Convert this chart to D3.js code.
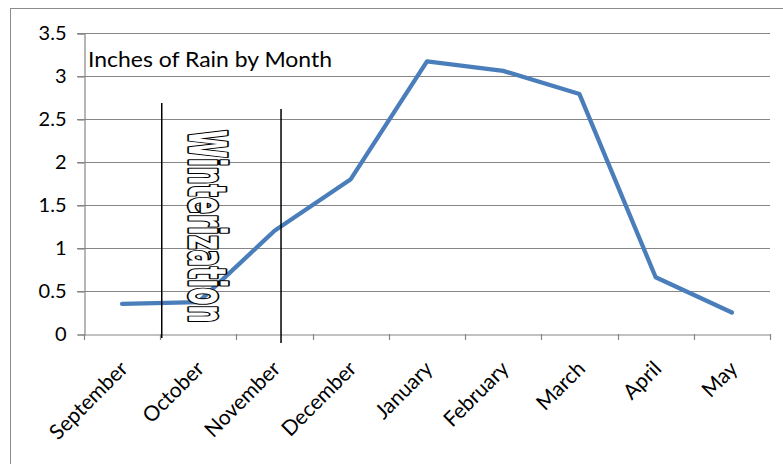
<!DOCTYPE html>
<html><head><meta charset="utf-8">
<script src="https://cdn.jsdelivr.net/npm/d3@7"></script>
<style>body{margin:0;background:#fff}svg{display:block}</style>
</head><body>
<script>
const months = ["September","October","November","December","January","February","March","April","May"];
const rain = [0.35, 0.37, 1.2, 1.8, 3.17, 3.06, 2.79, 0.66, 0.25];
const yTicks = [0, 0.5, 1, 1.5, 2, 2.5, 3, 3.5];
const title = "Inches of Rain by Month";
const annotation = "Winterization";
// marker lines: position in month-slot units, top and bottom in inches
const markerPos = [1.02, 2.585];
const markerTop = [2.686, 2.616];
const markerBottom = [-0.047, -0.105];

const W = 783, H = 464;
const svg = d3.select("body").append("svg").attr("width", W).attr("height", H);
const font = "Lato, 'Open Sans', 'Liberation Sans', sans-serif";

svg.append("rect").attr("x", 10.5).attr("y", 8.5).attr("width", 780).attr("height", 470)
  .attr("fill", "#fff").attr("stroke", "#8c8c8c").attr("stroke-width", 1);

const L = 84, R = 770, T = 33, B = 334;
const x = d3.scaleBand().domain(months).range([L, R]);
const xPos = d3.scaleLinear().domain([0, months.length]).range([L, R]);
const y = d3.scaleLinear().domain([0, 3.5]).range([B, T]);

// gridlines
svg.append("g").selectAll("line").data(yTicks.filter(d => d > 0)).join("line")
  .attr("x1", L - 7).attr("x2", R).attr("y1", d => Math.round(y(d)) + 0.5).attr("y2", d => Math.round(y(d)) + 0.5)
  .attr("stroke", "#868686").attr("stroke-width", 1.2);

// y axis
const yAxis = svg.append("g").attr("transform", `translate(${L + 0.5},0.5)`)
  .call(d3.axisLeft(y).tickValues(yTicks).tickSize(7).tickPadding(11).tickFormat(d3.format("")));
yAxis.select(".domain").attr("stroke", "#868686").attr("stroke-width", 1.2);
yAxis.selectAll(".tick line").attr("stroke", "#868686").attr("stroke-width", 1.2);
yAxis.selectAll(".tick text").attr("font-family", font).attr("font-size", 20).attr("fill", "#000");

// x axis
const xAxis = svg.append("g").attr("transform", `translate(0,${B + 0.5})`)
  .call(d3.axisBottom(x).tickSize(0).tickFormat(""));
xAxis.select(".domain").attr("stroke", "#868686").attr("stroke-width", 1.2);
const edges = d3.range(months.length + 1);
svg.append("g").selectAll("line").data(edges).join("line")
  .attr("x1", d => Math.round(xPos(d)) + 0.5).attr("x2", d => Math.round(xPos(d)) + 0.5)
  .attr("y1", B).attr("y2", B + 6).attr("stroke", "#868686").attr("stroke-width", 1.2);
svg.append("g").selectAll("text").data(months).join("text")
  .attr("transform", d => `translate(${x(d) + x.bandwidth() / 2 + 7},${B + 36}) rotate(-45)`)
  .attr("text-anchor", "end").attr("font-family", font).attr("font-size", 21).attr("fill", "#000")
  .text(d => d);

// line
const line = d3.line().x((d, i) => x(months[i]) + x.bandwidth() / 2).y(d => y(d));
svg.append("path").datum(rain).attr("d", line).attr("fill", "none")
  .attr("stroke", "#4a7ebb").attr("stroke-width", 4.3).attr("stroke-linejoin", "round").attr("stroke-linecap", "round");

// title
svg.append("text").attr("x", 88).attr("y", 67).attr("font-family", font).attr("font-size", 21)
  .attr("textLength", 244).attr("lengthAdjust", "spacingAndGlyphs").text(title);

// marker lines
svg.append("g").selectAll("line").data(markerPos).join("line")
  .attr("x1", d => xPos(d)).attr("x2", d => xPos(d))
  .attr("y1", (d, i) => y(markerTop[i])).attr("y2", (d, i) => y(markerBottom[i]))
  .attr("stroke", "#000").attr("stroke-width", 1.5);

// winterization text
svg.append("text")
  .attr("transform", `translate(${189},${130}) rotate(90)`)
  .attr("font-family", "'DejaVu Sans Condensed', 'Liberation Sans Narrow', 'DejaVu Sans', sans-serif")
  .attr("font-weight", "bold").attr("font-size", 52)
  .attr("textLength", 193).attr("lengthAdjust", "spacingAndGlyphs")
  .attr("fill", "#fff").attr("stroke", "#000").attr("stroke-width", 3.5)
  .attr("stroke-linejoin", "round")
  .attr("paint-order", "stroke")
  .text(annotation);
</script>
</body></html>
